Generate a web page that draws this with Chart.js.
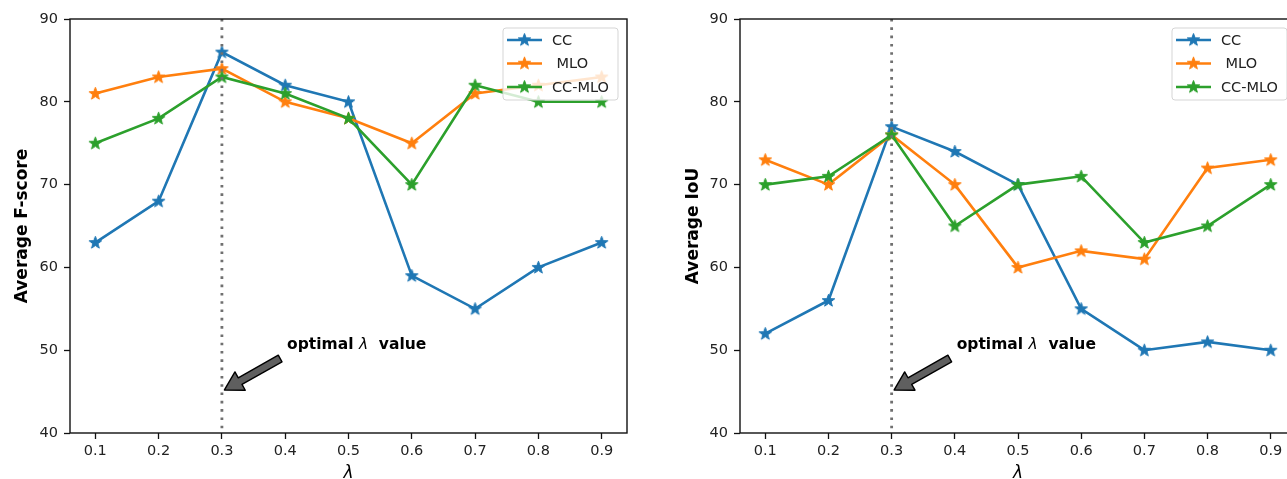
<!DOCTYPE html>
<html>
<head>
<meta charset="utf-8">
<script src="https://cdn.jsdelivr.net/npm/chart.js@4.4.0/dist/chart.umd.min.js"></script>
<style>
html, body { margin: 0; padding: 0; background: #fff; overflow: hidden; width: 1287px; height: 479px; }
#wrap { position: relative; width: 1287px; height: 479px; overflow: hidden; }
#left { position: absolute; left: 0; top: 0; }
#right { position: absolute; left: 645px; top: 0; }
</style>
</head>
<body>
<div id="wrap">
  <canvas id="left" width="640" height="484"></canvas>
  <canvas id="right" width="680" height="484"></canvas>
</div>
<script>
// lambda values on the x axis
const lambdas = [0.1, 0.2, 0.3, 0.4, 0.5, 0.6, 0.7, 0.8, 0.9];
const yTicks = [40, 50, 60, 70, 80, 90];
const seriesNames = ['CC', ' MLO', 'CC-MLO'];
const seriesColors = ['#1f77b4', '#ff7f0e', '#2ca02c'];

// left panel: Average F-score
const fscoreCC = [63, 68, 86, 82, 80, 59, 55, 60, 63];
const fscoreMLO = [81, 83, 84, 80, 78, 75, 81, 82, 83];
const fscoreCCMLO = [75, 78, 83, 81, 78, 70, 82, 80, 80];

// right panel: Average IoU
const iouCC = [52, 56, 77, 74, 70, 55, 50, 51, 50];
const iouMLO = [73, 70, 76, 70, 60, 62, 61, 72, 73];
const iouCCMLO = [70, 71, 76, 65, 70, 71, 63, 65, 70];

// annotation
const optimalLambda = 0.3;
const arrowTip = { x: 0.304, y: 45.2 };
const arrowTail = { x: 0.392, y: 49.0 };
const notePos = { x: 0.403, y: 50.6 };

Chart.defaults.font.family = "'DejaVu Sans', sans-serif";
Chart.defaults.color = '#222';

// filled 5-point star like matplotlib's '*' marker
function makeStar(color) {
    const c = document.createElement('canvas');
    c.width = 15; c.height = 15;
    const g = c.getContext('2d');
    g.beginPath();
    for (let i = 0; i < 10; i++) {
        const r = i % 2 === 0 ? 6.6 : 2.7;
        const a = -Math.PI / 2 + i * Math.PI / 5;
        const px = 7.5 + r * Math.cos(a);
        const py = 7.8 + r * Math.sin(a);
        if (i === 0) g.moveTo(px, py); else g.lineTo(px, py);
    }
    g.closePath();
    g.fillStyle = color;
    g.fill();
    g.strokeStyle = color;
    g.lineWidth = 1;
    g.stroke();
    return c;
}
const starImages = seriesColors.map(makeStar);

function drawArrow(ctx, x0, y0, x1, y1) {
    const ang = Math.atan2(y1 - y0, x1 - x0);
    const len = Math.hypot(x1 - x0, y1 - y0);
    const headLen = 18, headW = 10.5, shaftW = 3.8;
    ctx.save();
    ctx.translate(x0, y0);
    ctx.rotate(ang);
    ctx.beginPath();
    ctx.moveTo(0, -shaftW);
    ctx.lineTo(len - headLen, -shaftW);
    ctx.lineTo(len - headLen, -headW);
    ctx.lineTo(len, 0);
    ctx.lineTo(len - headLen, headW);
    ctx.lineTo(len - headLen, shaftW);
    ctx.lineTo(0, shaftW);
    ctx.closePath();
    ctx.fillStyle = '#5f5f5f';
    ctx.fill();
    ctx.strokeStyle = '#000';
    ctx.lineWidth = 1.4;
    ctx.lineJoin = 'round';
    ctx.stroke();
    ctx.restore();
}

// dotted line, arrow, note, frame and legend
const decorPlugin = {
    id: 'decor',
    afterDatasetsDraw(chart) {
        const ctx = chart.ctx;
        const area = chart.chartArea;
        const xs = chart.scales.x, ys = chart.scales.y;

        // vertical dotted line at optimal lambda
        const vx = xs.getPixelForValue(optimalLambda);
        ctx.save();
        ctx.strokeStyle = '#707070';
        ctx.lineWidth = 2.8;
        ctx.setLineDash([2.6, 5.7]);
        ctx.beginPath();
        ctx.moveTo(vx, area.top);
        ctx.lineTo(vx, area.bottom);
        ctx.stroke();
        ctx.restore();

        // arrow
        drawArrow(ctx,
            xs.getPixelForValue(arrowTail.x), ys.getPixelForValue(arrowTail.y),
            xs.getPixelForValue(arrowTip.x), ys.getPixelForValue(arrowTip.y));

        // note text
        let tx = xs.getPixelForValue(notePos.x);
        const ty = ys.getPixelForValue(notePos.y);
        ctx.save();
        ctx.fillStyle = '#000';
        ctx.textBaseline = 'middle';
        const parts = [
            ['bold 15.5px "DejaVu Sans"', 'optimal '],
            ['italic 15.5px "DejaVu Sans"', '\u03bb'],
            ['bold 15.5px "DejaVu Sans"', '  value']
        ];
        parts.forEach(([font, txt]) => {
            ctx.font = font;
            ctx.fillText(txt, tx, ty);
            tx += ctx.measureText(txt).width;
        });
        ctx.restore();

        // frame
        ctx.save();
        ctx.strokeStyle = '#111';
        ctx.lineWidth = 1.4;
        ctx.strokeRect(area.left, area.top, area.right - area.left, area.bottom - area.top);
        ctx.restore();
    },
    afterDraw(chart) {
        const ctx = chart.ctx;
        const area = chart.chartArea;
        const boxW = 115, boxH = 72;
        const bx = area.right - 9 - boxW, by = area.top + 9;
        ctx.save();
        ctx.beginPath();
        ctx.roundRect(bx, by, boxW, boxH, 3);
        ctx.fillStyle = 'rgba(255,255,255,0.8)';
        ctx.fill();
        ctx.strokeStyle = '#d5d5d5';
        ctx.lineWidth = 1;
        ctx.stroke();
        chart.data.datasets.forEach((ds, i) => {
            const ey = by + 12 + i * 23.5;
            ctx.strokeStyle = ds.borderColor;
            ctx.lineWidth = 2.5;
            ctx.beginPath();
            ctx.moveTo(bx + 4, ey);
            ctx.lineTo(bx + 39, ey);
            ctx.stroke();
            ctx.drawImage(starImages[i], bx + 21.5 - 7.5, ey - 7.8);
            ctx.fillStyle = '#222';
            ctx.font = '14.5px "DejaVu Sans"';
            ctx.textBaseline = 'middle';
            ctx.fillText(ds.label, bx + 49, ey + 1);
        });
        ctx.restore();
    }
};

function buildChart(id, yTitle, ccVals, mloVals, ccMloVals, yAxisWidth, rightPad, titlePad) {
    const datasets = [ccVals, mloVals, ccMloVals].map((vals, i) => ({
        label: seriesNames[i],
        data: lambdas.map((x, j) => ({ x: x, y: vals[j] })),
        borderColor: seriesColors[i],
        backgroundColor: seriesColors[i],
        borderWidth: 2.6,
        pointStyle: starImages[i],
        pointRadius: 6,
        tension: 0,
        order: 3 - i
    }));

    return new Chart(document.getElementById(id), {
        type: 'line',
        data: { datasets: datasets },
        plugins: [decorPlugin],
        options: {
            responsive: false,
            animation: false,
            devicePixelRatio: 1,
            layout: { padding: { left: 0, top: 19, right: rightPad, bottom: 0 } },
            plugins: {
                legend: { display: false },
                tooltip: { enabled: false }
            },
            scales: {
                x: {
                    type: 'linear',
                    min: 0.06,
                    max: 0.94,
                    afterBuildTicks: s => { s.ticks = lambdas.map(v => ({ value: v })); },
                    afterFit: s => { s.height = 51; },
                    grid: { drawOnChartArea: false, drawTicks: true, tickLength: 6, tickColor: '#111', tickWidth: 1.3 },
                    border: { display: false },
                    ticks: {
                        font: { size: 14.5 },
                        color: '#222',
                        padding: 4,
                        maxRotation: 0,
                        callback: v => v.toFixed(1)
                    },
                    title: {
                        display: true,
                        text: '\u03bb',
                        color: '#000',
                        font: { size: 17, style: 'italic' },
                        padding: { top: 0, bottom: 0 }
                    }
                },
                y: {
                    min: 40,
                    max: 90,
                    afterBuildTicks: s => { s.ticks = yTicks.map(v => ({ value: v })); },
                    afterFit: s => { s.width = yAxisWidth; },
                    grid: { drawOnChartArea: false, drawTicks: true, tickLength: 6, tickColor: '#111', tickWidth: 1.3 },
                    border: { display: false },
                    ticks: { font: { size: 14.5 }, color: '#222', padding: 6 },
                    title: {
                        display: true,
                        text: yTitle,
                        color: '#000',
                        font: { size: 17, weight: 'bold' },
                        padding: { top: titlePad - 0.6, bottom: 0 }
                    }
                }
            }
        }
    });
}

buildChart('left', 'Average F-score', fscoreCC, fscoreMLO, fscoreCCMLO, 70, 13, 13.4);
buildChart('right', 'Average IoU', iouCC, iouMLO, iouCCMLO, 95, 29, 39.4);
</script>
</body>
</html>
